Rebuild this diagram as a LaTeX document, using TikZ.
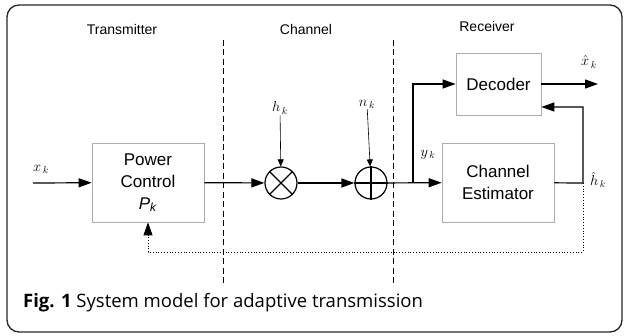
\documentclass[tikz,border=0pt]{standalone}
\usepackage{fontspec}
\setmainfont{Liberation Sans}
\newfontfamily\capfont{Open Sans}
\usetikzlibrary{positioning, arrows.meta}

\begin{document}
\begin{tikzpicture}
              [x=1pt, y=-1pt,
               block/.style={draw=gray!65, line width=.7pt, align=center,
                 font=\fontsize{17}{22}\selectfont},
               sect/.style={font=\fontsize{14}{16}\selectfont},
               sig/.style={font=\fontsize{14}{16}\selectfont, inner sep=1pt},
               op/.style={circle, draw, line width=1.2pt, minimum size=32pt, inner sep=0pt},
               arr/.style={-{Triangle[length=13pt, width=9pt]}, line width=1.2pt},
               thinarr/.style={-{Triangle[length=7pt, width=6pt]}, line width=.6pt},
               border/.style={dash pattern=on 6pt off 3.5pt, line width=.8pt}]
              \useasboundingbox (0,0) rectangle (625,336);
              \draw[rounded corners=12pt, line width=1.3pt, black!85] (7,5) rectangle (622,332);

              % sections %
              \node[sect] (tx) at (122,30) {Transmitter};
              \node[sect] (ch) at (306,30) {Channel};
              \node[sect] (rx) at (487,27) {Receiver};
              \draw[border] (223,40) -- (223,285);
              \draw[border] (393,40) -- (393,285);

              % nodes %
              \node[block, minimum width=112pt, minimum height=79pt] (pc) at (148,182.5)
                {Power\\Control\\\textit{P}\textsubscript{\textit{k}}};
              \node[op] (mul) at (281,183) {};
              \node[op] (add) at (371,183) {};
              \node[block, minimum width=112pt, minimum height=79pt] (ce) at (498,182.5)
                {Channel\\Estimator};
              \node[block, minimum width=85pt, minimum height=62pt] (dec) at (498.5,84) {Decoder};

              \node[sig] (xk) at (41,169) {$x_{\,k}$};
              \node[sig] (hk) at (280,108) {$h_{\,k}$};
              \node[sig] (nk) at (367,104) {$n_{\,k}$};
              \node[sig] (yk) at (428,155) {$y_{\,k}$};
              \node[sig] (xh) at (589,62) {$\hat{x}_{\,k}$};
              \node[sig] (hh) at (598,180) {$\hat{h}_{\,k}$};

              \coordinate (in) at (33,183);
              \coordinate (br) at (413,183);
              \coordinate (out) at (598,84);
              \coordinate (fb) at (583,183);
              \coordinate (fbtop) at (583,107);
              \coordinate (fbbot) at (583,252);

              % operators %
              \draw[line width=1.2pt] (mul.north west) -- (mul.south east);
              \draw[line width=1.2pt] (mul.north east) -- (mul.south west);
              \draw[line width=1.2pt] (add.north) -- (add.south);
              \draw[line width=1.2pt] (add.west) -- (add.east);

              % edges %
              \draw[arr] (in) -- (pc);
              \draw[arr] (pc) -- (mul);
              \draw[arr] (mul) -- (add);
              \draw[arr] (add) -- (ce);
              \draw[thinarr] (hk) -- (mul);
              \draw[thinarr] (nk) -- (add);
              \draw[arr] (br) |- (dec.west);
              \draw[arr] (dec) -- (out);
              \draw[arr] (ce) -- (fb) -- (fbtop) -- (dec.east |- fbtop);
              \draw[arr, line width=.8pt, dotted] (fb) -- (fbbot) -| (pc.south);

              % caption %
              \node[anchor=west, inner sep=0pt, font=\capfont\fontsize{18.5}{20}\selectfont] (cap) at (23,303)
                {\bfseries Fig. 1\ \mdseries System model for adaptive transmission};
            \end{tikzpicture}
\end{document}
